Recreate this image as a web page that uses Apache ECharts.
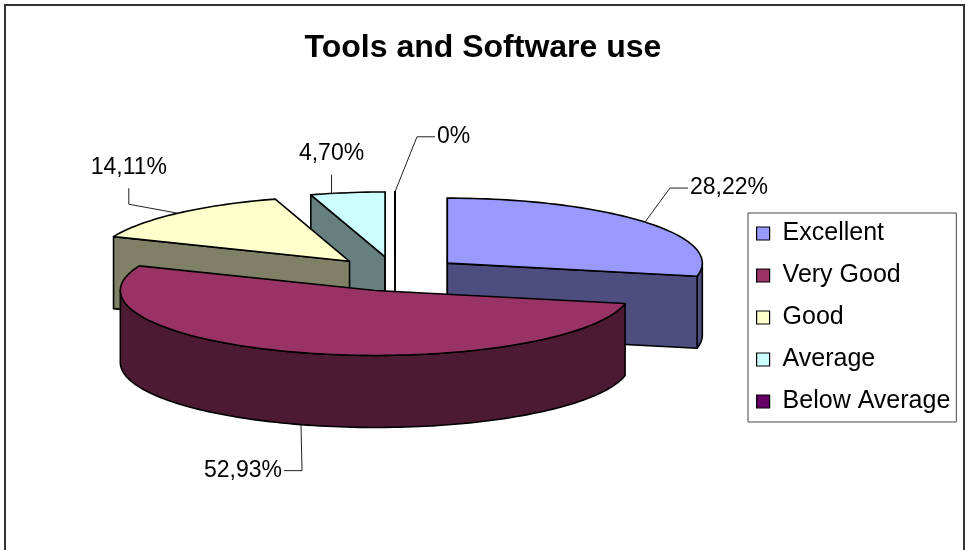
<!DOCTYPE html>
<html>
<head>
<meta charset="utf-8">
<title>Tools and Software use</title>
<script src="https://cdn.jsdelivr.net/npm/echarts@6/dist/echarts.min.js"></script>
<style>
  html, body { margin: 0; padding: 0; background: #ffffff; }
  #chart { width: 966px; height: 550px; }
</style>
</head>
<body>
<div id="chart"></div>
<script>
// Survey answers and their share of all responses (percent)
const categories = ['Excellent', 'Very Good', 'Good', 'Average', 'Below Average'];
const shares = [28.22, 52.93, 14.11, 4.70, 0];

// Face colours: top of each slice and its darker walls
const topColors = ['#9999FF', '#993366', '#FFFFCC', '#CCFFFF', '#660066'];
const sideColors = ['#4D4D80', '#4D1A33', '#808066', '#668080', '#330033'];

const FONT = '"Liberation Sans", Arial, Helvetica, sans-serif';

// Tilted disc: centre, horizontal / vertical radius of the top ellipse,
// wall height and how far every slice is pulled out along its bisector.
const PIE = { cx: 395, cy: 274, rx: 255, ry: 65, depth: 72, explode: 67.5 };

// Leader-line bends for each label, relative to the slice's anchor point
const LEADERS = [
  [[25, -34], [43, -34]],
  [[1, 46], [-17, 46]],
  [[-49, -9], [-49, -25]],
  [[-16, 1], [-16, -18]],
  [[22, -55], [40, -55]]
];

const rad = d => d * Math.PI / 180;
const total = shares.reduce((s, v) => s + v, 0);
const flat = PIE.ry / PIE.rx;

// Angles run clockwise from twelve o'clock
const slices = [];
let acc = 0;
shares.forEach(v => {
  const a1 = acc / total * 360;
  acc += v;
  const a2 = acc / total * 360;
  const mid = (a1 + a2) / 2;
  const c = [
    PIE.cx + PIE.explode * Math.sin(rad(mid)),
    PIE.cy - PIE.explode * flat * Math.cos(rad(mid))
  ];
  slices.push({ a1, a2, mid, c });
});

// Painter's order: slices farther from the viewer are drawn first
const order = slices.map((s, i) => i).sort((p, q) => slices[p].c[1] - slices[q].c[1]);
const rank = [];
order.forEach((idx, r) => { rank[idx] = r; });

function pt(c, deg, dy) {
  return [c[0] + PIE.rx * Math.sin(rad(deg)), c[1] - PIE.ry * Math.cos(rad(deg)) + (dy || 0)];
}
function arc(c, from, to, dy) {
  const n = Math.max(2, Math.ceil(Math.abs(to - from) / 1.5));
  const pts = [];
  for (let j = 0; j <= n; j++) pts.push(pt(c, from + (to - from) * j / n, dy));
  return pts;
}
function fmt(v) {
  return v === 0 ? '0%' : v.toFixed(2).replace('.', ',') + '%';
}

function renderSlice(i) {
  return function (params, api) {
    const value = api.value(0);
    const s = slices[i];
    const c = s.c, a1 = s.a1, a2 = s.a2, D = PIE.depth;
    const edge = { stroke: '#000000', lineWidth: 1.6, lineJoin: 'round' };
    const z = rank[i] * 10;
    const children = [];

    // outer wall, only where it faces the viewer
    const lo = Math.max(a1, 90), hi = Math.min(a2, 270);
    if (hi > lo) {
      children.push({
        type: 'polygon', z2: z + 1,
        shape: { points: arc(c, lo, hi).concat(arc(c, hi, lo, D)) },
        style: Object.assign({ fill: sideColors[i] }, edge)
      });
    }
    // cut faces along the two radii
    const cutFace = deg => {
      const p = pt(c, deg);
      return {
        type: 'polygon', z2: z + 2,
        shape: { points: [c, p, [p[0], p[1] + D], [c[0], c[1] + D]] },
        style: Object.assign({ fill: sideColors[i] }, edge)
      };
    };
    if (Math.sin(rad(a1)) <= 1e-9) children.push(cutFace(a1));
    if (Math.sin(rad(a2)) >= -1e-9) children.push(cutFace(a2));

    // top face
    children.push({
      type: 'polygon', z2: z + 5,
      shape: { points: [c].concat(arc(c, a1, a2)) },
      style: Object.assign({ fill: topColors[i] }, edge)
    });

    // value label with leader line
    const front = Math.cos(rad(s.mid)) < 0;
    const anchor = front ? pt(c, s.mid, D) : pt(c, s.mid);
    const L = LEADERS[i];
    const p1 = [anchor[0] + L[0][0], anchor[1] + L[0][1]];
    const p2 = [anchor[0] + L[1][0], anchor[1] + L[1][1]];
    children.push({
      type: 'polyline', z2: 1000,
      shape: { points: [anchor, p1, p2] },
      style: { stroke: '#222222', lineWidth: 1, fill: null }
    });
    const dx = p2[0] - p1[0], dy = p2[1] - p1[1];
    let tx, ty, align;
    if (Math.abs(dx) >= Math.abs(dy)) {
      align = dx > 0 ? 'left' : 'right';
      tx = p2[0] + (dx > 0 ? 2 : -2);
      ty = p2[1];
    } else {
      align = 'center';
      tx = p2[0];
      ty = p2[1] - 21;
    }
    children.push({
      type: 'text', z2: 1001,
      style: {
        text: fmt(value), x: tx, y: ty, align: align, verticalAlign: 'middle',
        fontFamily: FONT, fontSize: 23, fill: '#000000'
      }
    });

    return { type: 'group', children: children };
  };
}

const chart = echarts.init(document.getElementById('chart'), null, { renderer: 'canvas' });

chart.setOption({
  backgroundColor: '#ffffff',
  animation: false,
  title: {
    text: 'Tools and Software use',
    left: 'center',
    top: 27,
    textStyle: { fontFamily: FONT, fontSize: 32, fontWeight: 'bold', color: '#000000' }
  },
  legend: {
    orient: 'vertical',
    left: 748,
    top: 213,
    padding: [8, 6, 8, 8],
    itemGap: 17,
    itemWidth: 13,
    itemHeight: 13,
    icon: 'rect',
    borderColor: '#444444',
    borderWidth: 1,
    backgroundColor: '#ffffff',
    selectedMode: false,
    itemStyle: { borderColor: '#000000', borderWidth: 1.2 },
    textStyle: { fontFamily: FONT, fontSize: 25, lineHeight: 25, color: '#000000', padding: [0, 0, 0, 8] },
    data: categories
  },
  graphic: [{
    type: 'rect', silent: true, z: -10,
    shape: { x: 5, y: 5, width: 959, height: 560 },
    style: { fill: null, stroke: '#333333', lineWidth: 2 }
  }],
  series: categories.map((name, i) => ({
    type: 'custom',
    name: name,
    coordinateSystem: 'none',
    itemStyle: { color: topColors[i] },
    renderItem: renderSlice(i),
    data: [[shares[i]]]
  }))
});
</script>
</body>
</html>
